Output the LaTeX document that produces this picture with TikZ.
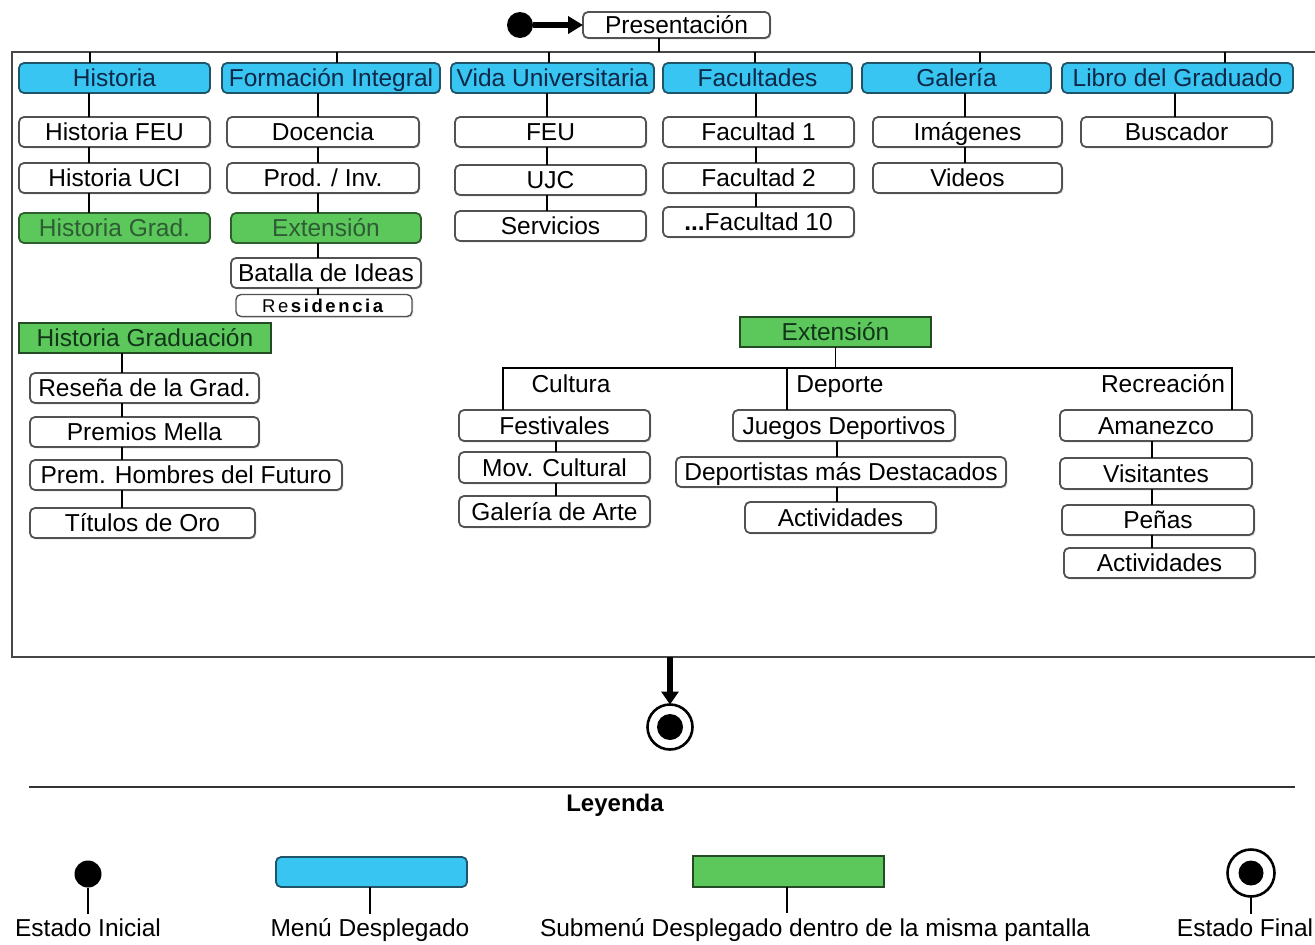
\documentclass[tikz,border=0pt]{standalone}
\usepackage{fontspec}
\setmainfont{Liberation Sans}
\usetikzlibrary{arrows.meta,shadows}

\definecolor{menublue}{HTML}{38C5F2}
\definecolor{menuedge}{HTML}{1F5469}
\definecolor{menutext}{HTML}{0D2747}
\definecolor{subgreen}{HTML}{5CC85C}
\definecolor{subedge}{HTML}{2E5E2E}
\definecolor{subtext}{HTML}{12351A}
\definecolor{fadedtext}{HTML}{2E5C34}
\definecolor{boxedge}{HTML}{525252}

% box from (x1,y1) to (x2,y2) in pixel-like units
\newcommand\bx[7]{%
  \node[#2, minimum width={(#5)-(#3)}, minimum height={(#6)-(#4)}]
    (#1) at ({((#3)+(#5))/2},{((#4)+(#6))/2}) {#7};}
% vertical link at the x of coordinate #1 from box #2 down to box #3
\newcommand\vlink[3]{\draw[link] (#2.south -| #1) -- (#3.north -| #1);}

\begin{document}
\begin{tikzpicture}[x=1pt,y=-1pt,
  every node/.style={inner sep=0pt, outer sep=0pt,
    font=\fontsize{24.5}{26}\selectfont, text height=17.5pt, text depth=0pt},
  item/.style={draw=boxedge, line width=1.8pt, rounded corners=5pt, fill=white,
    drop shadow={shadow xshift=1.3pt, shadow yshift=-1.3pt, opacity=.3, fill=black!50}},
  menu/.style={draw=menuedge, line width=1.8pt, rounded corners=5pt, fill=menublue, text=menutext},
  subr/.style={draw=subedge, line width=1.8pt, rounded corners=5pt, fill=subgreen, text=fadedtext},
  subsq/.style={draw=subedge!80!black, line width=1.8pt, fill=subgreen, text=subtext},
  link/.style={line width=1.6pt, black},
  frame/.style={line width=2.4pt, black!72},
  thick arrow/.style={line width=5.5pt, -{Triangle[length=15pt,width=17pt]}}]

\useasboundingbox (0,0) rectangle (1315,945);
\fill[white] (0,0) rectangle (1315,945);

% ---------- start ----------
\node[circle, fill=black, minimum size=26] (ini) at (520,25) {};
\bx{pres}{item}{583}{12}{770}{38}{Presentación}
\draw[thick arrow] (ini) -- (pres.west);

% ---------- screen frame ----------
\draw[frame] (1315,52) -- (12,52) -- (12,657) -- (1315,657);
\coordinate (t0) at (659,52);
\draw[link] (pres.south -| t0) -- (t0);

% ---------- main menu ----------
\bx{hist}{menu}{19}{63}{210}{93}{Historia}
\bx{form}{menu}{222}{63}{440}{93}{Formación Integral}
\bx{vida}{menu}{451}{63}{654}{93}{Vida Universitaria}
\bx{facu}{menu}{663}{63}{852}{93}{Facultades}
\bx{gale}{menu}{862}{63}{1051}{93}{Galería}
\bx{libro}{menu}{1062}{63}{1293}{93}{Libro del Graduado}

\coordinate (t1) at (90,52);
\coordinate (t2) at (337,52);
\coordinate (t3) at (549,52);
\coordinate (t4) at (755,52);
\coordinate (t5) at (980,52);
\coordinate (t6) at (1225,52);
\draw[link] (t1) -- (hist.north -| t1);
\draw[link] (t2) -- (form.north -| t2);
\draw[link] (t3) -- (vida.north -| t3);
\draw[link] (t4) -- (facu.north -| t4);
\draw[link] (t5) -- (gale.north -| t5);
\draw[link] (t6) -- (libro.north -| t6);

% ---------- Historia ----------
\bx{hfeu}{item}{19}{117}{210}{147}{Historia FEU}
\bx{huci}{item}{19}{163}{210}{193}{Historia UCI}
\bx{hgrad}{subr}{19}{213}{210}{243}{Historia Grad.}
\coordinate (c1) at (89,0);
\vlink{c1}{hist}{hfeu}
\vlink{c1}{hfeu}{huci}
\vlink{c1}{huci}{hgrad}

% ---------- Formación Integral ----------
\bx{doce}{item}{227}{117}{419}{147}{Docencia}
\bx{prod}{item}{227}{163}{419}{193}{Prod. / Inv.}
\bx{exte}{subr}{231}{213}{421}{243}{Extensión}
\bx{bata}{item}{231}{258}{421}{288}{Batalla de Ideas}
\node[item, line width=1.4pt, minimum width=176, minimum height=22,
      font=\fontsize{18.5}{20}\selectfont\addfontfeature{LetterSpace=14},
      text height=13.3pt] (resi) at (324,305.5)
      {Re\textbf{sidencia}};
\coordinate (c2) at (318,0);
\vlink{c2}{form}{doce}
\vlink{c2}{doce}{prod}
\vlink{c2}{prod}{exte}
\vlink{c2}{exte}{bata}
\vlink{c2}{bata}{resi}

% ---------- Vida Universitaria ----------
\bx{feu}{item}{455}{117}{646}{147}{FEU}
\bx{ujc}{item}{455}{165}{646}{195}{UJC}
\bx{serv}{item}{455}{211}{646}{241}{Servicios}
\coordinate (c3) at (547,0);
\vlink{c3}{vida}{feu}
\vlink{c3}{feu}{ujc}
\vlink{c3}{ujc}{serv}

% ---------- Facultades ----------
\bx{fac1}{item}{663}{117}{854}{147}{Facultad 1}
\bx{fac2}{item}{663}{163}{854}{193}{Facultad 2}
\bx{fac10}{item}{663}{207}{854}{237}{\textbf{...}Facultad 10}
\coordinate (c4) at (756,0);
\vlink{c4}{facu}{fac1}
\vlink{c4}{fac1}{fac2}
\vlink{c4}{fac2}{fac10}

% ---------- Galería ----------
\bx{imag}{item}{873}{117}{1062}{147}{Imágenes}
\bx{vide}{item}{873}{163}{1062}{193}{Videos}
\coordinate (c5) at (965,0);
\vlink{c5}{gale}{imag}
\vlink{c5}{imag}{vide}

% ---------- Libro del Graduado ----------
\bx{busc}{item}{1081}{117}{1272}{147}{Buscador}
\coordinate (c6) at (1175,0);
\vlink{c6}{libro}{busc}

% ---------- Historia Graduación ----------
\bx{hgr}{subsq}{19}{323}{271}{353}{Historia Graduación}
\bx{rese}{item}{30}{373}{259}{403}{Reseña de la Grad.}
\bx{prem}{item}{30}{417}{259}{447}{Premios Mella}
\bx{homb}{item}{30}{460}{342}{490}{Prem. Hombres del Futuro}
\bx{titu}{item}{30}{508}{255}{538}{Títulos de Oro}
\coordinate (c7) at (122,0);
\vlink{c7}{hgr}{rese}
\vlink{c7}{rese}{prem}
\vlink{c7}{prem}{homb}
\vlink{c7}{homb}{titu}

% ---------- Extensión ----------
\bx{ext}{subsq}{740}{317}{931}{347}{Extensión}
\coordinate (bl) at (503,368);
\coordinate (bm) at (787,368);
\coordinate (br) at (1232,368);
\draw[link] (ext.south) -- (ext.south |- bl);

\bx{fest}{item}{459}{410}{650}{441}{Festivales}
\bx{movc}{item}{459}{452}{650}{483}{Mov. Cultural}
\bx{gart}{item}{459}{496}{650}{527}{Galería de Arte}

\bx{jueg}{item}{733}{410}{955}{441}{Juegos Deportivos}
\bx{depd}{item}{676}{457}{1006}{487}{Deportistas más Destacados}
\bx{actd}{item}{745}{502}{936}{533}{Actividades}

\bx{amaz}{item}{1060}{410}{1252}{441}{Amanezco}
\bx{visi}{item}{1060}{458}{1252}{489}{Visitantes}
\bx{pena}{item}{1062}{505}{1254}{535}{Peñas}
\bx{actr}{item}{1064}{548}{1255}{578}{Actividades}

\draw[link] (fest.north -| bl) -- (bl) -- (br) -- (amaz.north -| br);
\draw[link] (bm) -- (jueg.north -| bm);

\node (cult) at (571,383.5) {Cultura};
\node (depo) at (840,383.5) {Deporte};
\node (recr) at (1163,383.5) {Recreación};

\coordinate (c8) at (556,0);
\vlink{c8}{fest}{movc}
\vlink{c8}{movc}{gart}
\coordinate (c9) at (837,0);
\vlink{c9}{jueg}{depd}
\vlink{c9}{depd}{actd}
\coordinate (c10) at (1152,0);
\vlink{c10}{amaz}{visi}
\vlink{c10}{visi}{pena}
\vlink{c10}{pena}{actr}

% ---------- end ----------
\node[circle, draw=black, line width=2.6pt, fill=white, minimum size=45] (fin) at (670,727) {};
\fill (fin.center) circle[radius=13];
\coordinate (fb) at (670,657);
\draw[line width=5.5pt, -{Triangle[length=13pt,width=17pt]}] (fb) -- (fin.north);

% ---------- legend ----------
\coordinate (lgl) at (29,787);
\coordinate (lgr) at (1295,787);
\draw[line width=2pt, black!80] (lgl) -- (lgr);
\node[font=\fontsize{24}{26}\selectfont\bfseries] (ley) at (615,803) {Leyenda};

\node[circle, fill=black, minimum size=27] (lgini) at (88,874) {};
\node (lgini-t) at (88,927.5) {Estado Inicial};
\draw[link] (lgini) -- ([yshift=5pt]lgini-t.north);

\bx{lgmenu}{menu}{276}{857}{467}{887}{}
\node (lgmenu-t) at (370,927.5) {Menú Desplegado};
\draw[link] (lgmenu.south -| lgmenu-t) -- ([yshift=5pt]lgmenu-t.north);

\bx{lgsub}{subsq}{693}{856}{884}{887}{}
\node[anchor=west] (lgsub-t) at (540,927.5) {Submenú Desplegado dentro de la misma pantalla};
\coordinate (lgsx) at (787,913);
\draw[link] (lgsub.south -| lgsx) -- (lgsx);

\node[circle, draw=black, line width=2.6pt, fill=white, minimum size=47] (lgfin) at (1251,873) {};
\fill (lgfin.center) circle[radius=12.5];
\node (lgfin-t) at (1245,927.5) {Estado Final};
\draw[link] (lgfin.south) -- ([yshift=5pt]lgfin-t.north -| lgfin);
\end{tikzpicture}
\end{document}
